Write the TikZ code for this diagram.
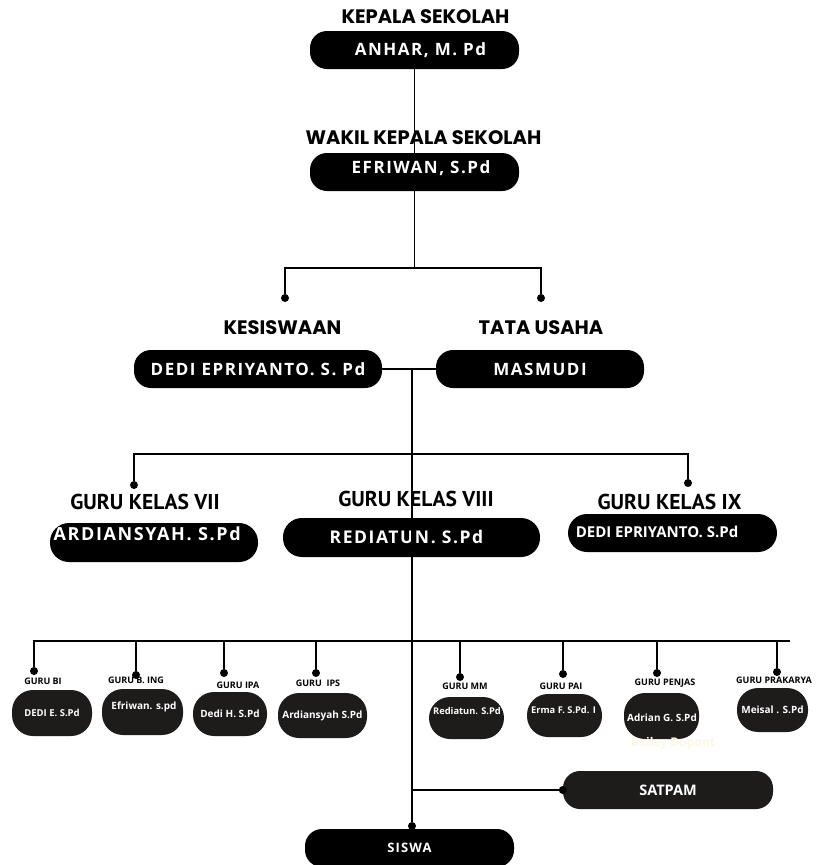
\documentclass[tikz,border=0pt]{standalone}
\usepackage{fontspec}
\usepackage{tikz}
\usepackage{xcolor}
\usetikzlibrary{calc,positioning}
\newfontfamily\headfont{Poppins}
\newfontfamily\namefont[LetterSpace=9]{Open Sans}
\newfontfamily\kelasfont{PT Sans}
\newfontfamily\smallfont{Open Sans}
\definecolor{boxdark}{RGB}{30,27,27}
\definecolor{ghost}{RGB}{253,247,232}
\tikzset{
  pill/.style={fill=black, rounded corners=17pt, text=white, inner sep=0pt,
    font=\namefont\bfseries\fontsize{17}{19}\selectfont},
  minipill/.style={fill=boxdark, rounded corners=21pt, text=white, inner sep=0pt,
    font=\smallfont\bfseries\fontsize{10}{12}\selectfont},
  heading/.style={font=\headfont\bfseries\fontsize{19.5}{22}\selectfont},
  kelas/.style={font=\kelasfont\bfseries\fontsize{21.5}{24}\selectfont},
  tinyhead/.style={font=\smallfont\bfseries\fontsize{9}{10}\selectfont},
  whitetext/.style={text=white, font=\smallfont\bfseries\fontsize{10}{12}\selectfont},
  link/.style={line width=1.6pt},
  dot/.style={circle, fill=black, inner sep=0pt, minimum size=8pt},
}

\begin{document}
\begin{tikzpicture}[x=1pt, y=-1pt]
  \useasboundingbox[fill=white] (0,0) rectangle (816,865);

  % pimpinan
  \node[pill, minimum width=209pt, minimum height=38pt] (anhar) at (414.5,50) {\hspace*{12pt}ANHAR, M. Pd};
  \node[pill, minimum width=209pt, minimum height=38pt] (efriwan) at (414.5,172) {};
  \draw[link] (anhar.south) -- (efriwan.north);
  \node[heading] (kepala) at (425.5,17) {KEPALA SEKOLAH};
  \node[heading] (wakil) at (423.5,138) {WAKIL KEPALA SEKOLAH};
  \node[text=white, font=\namefont\bfseries\fontsize{17}{19}\selectfont] (efriwantxt) at (421,168) {EFRIWAN, S.Pd};

  \node[dot] (dkes) at (285,298) {};
  \node[dot] (dtu) at (541,298) {};
  \coordinate (split) at (414.5,268);
  \draw[link] (efriwan.south) -- (split);
  \draw[link] (dkes) |- (split) -| (dtu);

  \node[heading] (kesiswaan) at (282.5,328) {KESISWAAN};
  \node[heading] (tatausaha) at (541,328) {TATA USAHA};
  \node[pill, minimum width=248pt, minimum height=38pt] (dedi) at (258,369) {DEDI EPRIYANTO. S. Pd};
  \node[pill, minimum width=208pt, minimum height=38pt] (masmudi) at (540,369) {MASMUDI};
  \draw[link] (dedi.east) -- (masmudi.west);

  % guru kelas
  \coordinate (spine) at (412,369);
  \coordinate (kls) at (412,454);
  \node[dot] (d7) at (134,485) {};
  \node[dot] (d9) at (688,483) {};
  \draw[link] (d7) |- (kls) -| (d9);

  \node[kelas] (kelas7) at (145,502) {GURU KELAS VII};
  \node[kelas] (kelas8) at (416,499) {GURU KELAS VIII};
  \node[kelas] (kelas9) at (669.5,502) {GURU KELAS IX};
  \node[pill, minimum width=208pt, minimum height=39pt, rounded corners=19pt] (ardi) at (154,542.5) {};
  \node[text=white, font=\namefont\bfseries\fontsize{18}{20}\selectfont, anchor=west] (arditxt) at (50,534) {ARDIANSYAH. S.Pd};
  \node[pill, minimum width=257pt, minimum height=39pt, rounded corners=19pt] (redi) at (411.5,537.5) {};
  \node[text=white, font=\namefont\bfseries\fontsize{17.5}{20}\selectfont] (reditxt) at (406.5,537) {REDIATUN. S.Pd};
  \node[pill, minimum width=209pt, minimum height=38pt, rounded corners=19pt] (dedi9) at (672.5,533) {};
  \node[text=white, font=\smallfont\bfseries\fontsize{15}{17}\selectfont] (dedi9txt) at (657,532) {DEDI EPRIYANTO. S.Pd};

  % guru mapel
  \coordinate (mapel) at (790,641);
  \node[dot] (dbi) at (34,671) {};
  \node[dot] (dbing) at (136,675) {};
  \node[dot] (dipa) at (224,673) {};
  \node[dot] (dips) at (316,673) {};
  \node[dot] (dmm) at (460,677) {};
  \node[dot] (dpai) at (563,674) {};
  \node[dot] (dpenjas) at (657,673) {};
  \node[dot] (dprakarya) at (777,672) {};
  \draw[link] (dbi) |- (mapel);
  \draw[link] (dbing) -- (dbing |- mapel);
  \draw[link] (dipa) -- (dipa |- mapel);
  \draw[link] (dips) -- (dips |- mapel);
  \draw[link] (dmm) -- (dmm |- mapel);
  \draw[link] (dpai) -- (dpai |- mapel);
  \draw[link] (dpenjas) -- (dpenjas |- mapel);
  \draw[link] (dprakarya) -- (dprakarya |- mapel);

  \node[tinyhead] (gbi) at (43,681) {GURU BI};
  \node[tinyhead] (gbing) at (136,680) {GURU B. ING};
  \node[tinyhead] (gipa) at (238,685) {GURU IPA};
  \node[tinyhead] (gips) at (318,683) {GURU~ IPS};
  \node[tinyhead] (gmm) at (465,686) {GURU MM};
  \node[tinyhead] (gpai) at (561,686) {GURU PAI};
  \node[tinyhead] (gpenjas) at (665,683) {GURU PENJAS};
  \node[tinyhead] (gprakarya) at (774,680) {GURU PRAKARYA};

  \node[minipill, minimum width=80pt, minimum height=46pt, font=\smallfont\bfseries\fontsize{9.5}{11}\selectfont] (bi) at (52,713) {DEDI E. S.Pd};
  \node[minipill, minimum width=81pt, minimum height=46pt] (bing) at (142.5,712) {};
  \node[whitetext] (bingtxt) at (144,707) {Efriwan. s.pd};
  \node[minipill, minimum width=74pt, minimum height=44pt] (ipa) at (230,714) {Dedi H. S.Pd};
  \node[minipill, minimum width=89pt, minimum height=45pt] (ips) at (322.5,715.5) {Ardiansyah S.Pd};
  \node[minipill, minimum width=75pt, minimum height=42pt] (mm) at (466.5,718) {};
  \node[whitetext, font=\smallfont\bfseries\fontsize{9.3}{11}\selectfont] (mmtxt) at (467,711) {Rediatun. S.Pd};
  \node[minipill, minimum width=75pt, minimum height=43pt] (pai) at (564.5,715.5) {};
  \node[whitetext, font=\smallfont\bfseries\fontsize{9.3}{11}\selectfont] (paitxt) at (563.5,710) {Erma F. S.Pd. I};
  \node[minipill, minimum width=75pt, minimum height=46pt] (penjas) at (661.5,716) {};
  \node[whitetext] (penjastxt) at (662,718) {Adrian G. S.Pd};
  \node[minipill, minimum width=71pt, minimum height=44pt] (prakarya) at (772.5,710) {Meisal . S.Pd};
  \node[text=ghost, font=\smallfont\bfseries\fontsize{12}{14}\selectfont] (ghosttxt) at (673,743) {Bailey Dupont};

  % satpam dan siswa
  \node[pill, fill=boxdark, minimum width=210pt, minimum height=38pt, font=\smallfont\bfseries\fontsize{14.5}{16}\selectfont] (satpam) at (668,790) {SATPAM};
  \node[pill, minimum width=209pt, minimum height=38pt, font=\namefont\bfseries\fontsize{13}{15}\selectfont] (siswa) at (409.5,848) {SISWA};
  \node[dot] (dsat) at (satpam.west) {};
  \node[dot] (dsiswa) at (412,826) {};
  \draw[link] (spine) -- (dsiswa);
  \draw[link] (dsat) -- (dsat -| spine);
\end{tikzpicture}
\end{document}
